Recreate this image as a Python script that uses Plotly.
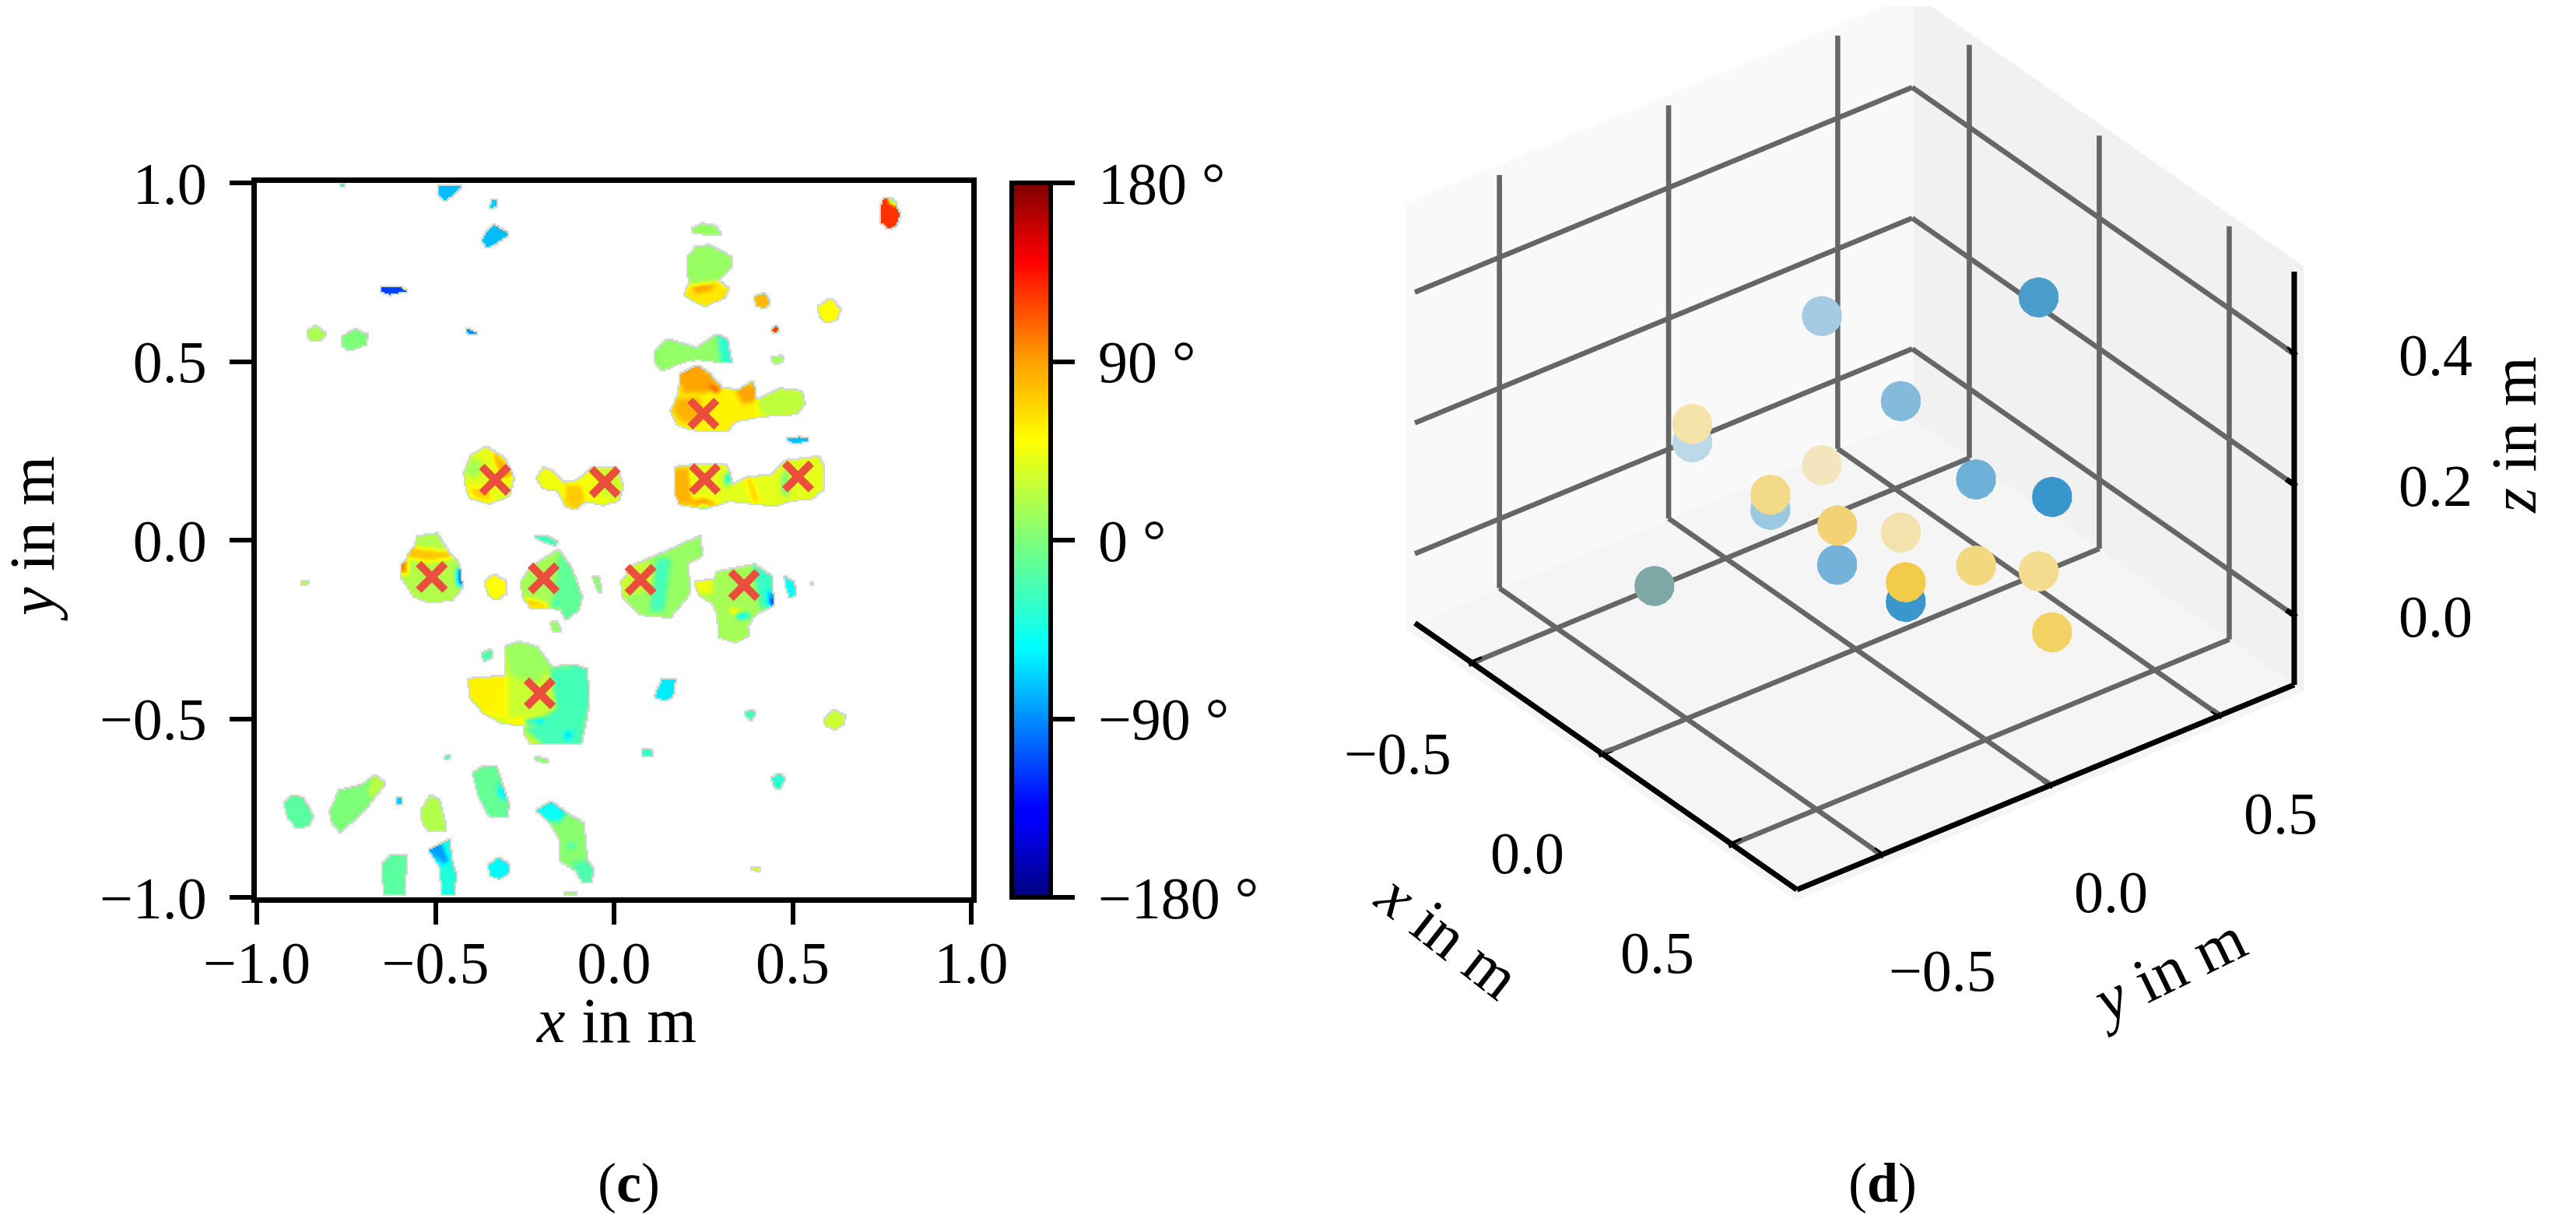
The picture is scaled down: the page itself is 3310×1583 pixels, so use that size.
import numpy as np
import plotly.graph_objects as go

# ---- panel (c): traced phase regions: (phase in degrees, outline in metres); later regions overwrite earlier ones
phase_regions = [
 (-75,[(-.489,.993),(-.426,.993),(-.454,.965),(-.475,.951),(-.489,.965)]),
 (-70,[(-.343,.949),(-.329,.954),(-.329,.935),(-.346,.929)]),
 (-75,[(-.357,.861),(-.336,.882),(-.294,.857),(-.329,.833),(-.357,.819),(-.368,.84)]),
 (-115,[(-.651,.71),(-.6,.71),(-.582,.697),(-.628,.688),(-.649,.694)]),
 (125,[(.754,.954),(.775,.958),(.789,.938),(.8,.91),(.789,.882),(.768,.872),(.749,.889),(.746,.924)]),
 (-140,[(.77,.958),(.782,.952),(.79,.94),(.778,.945)]),
 (10,[(.219,.872),(.247,.885),(.282,.879),(.299,.858),(.254,.858),(.226,.861)]),
 (10,[(.206,.792),(.233,.822),(.268,.824),(.328,.792),(.328,.764),(.289,.729),(.321,.704),(.31,.681),(.254,.656),(.219,.674),(.199,.688),(.213,.722),(.206,.75)]),
 (60,[(.199,.688),(.213,.715),(.289,.725),(.321,.704),(.31,.681),(.254,.656),(.219,.674)]),
 (90,[(.22,.71),(.29,.72),(.27,.70),(.23,.69)]),
 (80,[(.393,.681),(.421,.69),(.435,.667),(.424,.651),(.4,.657)]),
 (50,[(.574,.653),(.608,.676),(.633,.646),(.622,.618),(.594,.611),(.576,.629)]),
 (120,[(.442,.59),(.451,.599),(.463,.59),(.451,.579)]),
 (15,[(.442,.51),(.469,.515),(.474,.504),(.451,.493)]),
 (-90,[(-.415,.59),(-.399,.588),(-.382,.576),(-.406,.579)]),
 (18,[(-.857,.583),(-.836,.599),(-.808,.579),(-.818,.563),(-.843,.558),(-.854,.569)]),
 (0,[(-.76,.569),(-.725,.589),(-.69,.574),(-.697,.549),(-.739,.532),(-.76,.544)]),
 (8,[(.115,.528),(.15,.562),(.192,.549),(.233,.537),(.289,.576),(.317,.562),(.328,.5),(.289,.5),(.233,.507),(.192,.5),(.136,.476),(.115,.5)]),
 (-35,[(.29,.572),(.317,.562),(.328,.5),(.30,.5)]),
 (55,[(.185,.465),(.233,.489),(.268,.465),(.303,.424),(.351,.421),(.39,.444),(.397,.396),(.449,.396),(.463,.424),(.525,.417),(.532,.382),(.511,.354),(.407,.347),(.338,.333),(.317,.306),(.213,.31),(.178,.326),(.16,.361),(.182,.41)]),
 (88,[(.185,.465),(.233,.489),(.27,.46),(.29,.43),(.25,.41),(.19,.41)]),
 (125,[(.26,.435),(.3,.425),(.285,.41)]),
 (25,[(.40,.39),(.46,.42),(.525,.417),(.532,.382),(.511,.354),(.41,.35)]),
 (82,[(.165,.36),(.18,.40),(.24,.40),(.24,.33),(.19,.33)]),
 (88,[(.34,.415),(.39,.44),(.397,.39),(.36,.38)]),
 (-75,[(.479,.282),(.518,.288),(.553,.281),(.511,.271)]),
 (40,[(-.419,.188),(-.399,.236),(-.357,.26),(-.308,.229),(-.281,.174),(-.294,.125),(-.35,.104),(-.399,.118),(-.413,.146)]),
 (85,[(-.34,.25),(-.30,.21),(-.285,.18),(-.31,.17),(-.335,.22)]),
 (72,[(-.41,.15),(-.39,.12),(-.34,.11),(-.35,.14)]),
 (15,[(-.419,.19),(-.39,.235),(-.365,.2),(-.39,.17)]),
 (45,[(-.215,.174),(-.197,.201),(-.176,.194),(-.142,.16),(-.1,.167),(-.058,.204),(.004,.204),(.025,.153),(.011,.111),(-.031,.1),(-.079,.111),(-.107,.088),(-.135,.097),(-.156,.139),(-.197,.146)]),
 (72,[(-.14,.155),(-.09,.155),(-.08,.115),(-.105,.09),(-.135,.10)]),
 (30,[(-.05,.2),(0,.2),(.02,.15),(.01,.115),(-.03,.12)]),
 (40,[(.174,.201),(.185,.208),(.31,.213),(.324,.188),(.331,.153),(.372,.174),(.442,.183),(.483,.222),(.574,.233),(.588,.201),(.588,.146),(.553,.118),(.49,.111),(.449,.097),(.324,.111),(.254,.09),(.185,.101),(.171,.132)]),
 (82,[(.174,.2),(.21,.205),(.22,.11),(.185,.10),(.171,.13)]),
 (92,[(.19,.105),(.25,.095),(.29,.105),(.25,.12)]),
 (-70,[(.31,.19),(.324,.18),(.32,.15),(.31,.16)]),
 (72,[(.37,.17),(.385,.17),(.41,.105),(.39,.105)]),
 (0,[(.47,.18),(.49,.215),(.49,.12),(.47,.13)]),
 (-130,[(.23,.095),(.27,.095),(.25,.088)]),
 (20,[(-.593,-.076),(-.558,-.021),(-.549,.01),(-.496,.018),(-.468,-.028),(-.433,-.069),(-.426,-.132),(-.454,-.167),(-.517,-.174),(-.558,-.157),(-.593,-.104)]),
 (75,[(-.56,-.02),(-.47,-.03),(-.45,-.05),(-.52,-.06),(-.58,-.05)]),
 (100,[(-.593,-.07),(-.575,-.05),(-.58,-.1),(-.593,-.09)]),
 (-130,[(-.44,-.075),(-.43,-.08),(-.426,-.13),(-.44,-.12)]),
 (50,[(-.36,-.118),(-.336,-.097),(-.301,-.118),(-.301,-.146),(-.329,-.167),(-.35,-.153)]),
 (20,[(-.874,-.118),(-.857,-.115),(-.86,-.125),(-.871,-.125)]),
 (-25,[(-.221,.01),(-.19,.01),(-.16,-.004),(-.163,-.014),(-.197,-.004)]),
 (15,[(-.26,-.118),(-.232,-.076),(-.156,-.028),(-.121,-.076),(-.09,-.16),(-.1,-.194),(-.135,-.222),(-.149,-.194),(-.19,-.188),(-.232,-.188),(-.253,-.16)]),
 (-12,[(-.156,-.03),(-.121,-.076),(-.09,-.16),(-.1,-.194),(-.135,-.222),(-.149,-.19),(-.17,-.17),(-.16,-.1)]),
 (80,[(-.25,-.16),(-.19,-.175),(-.19,-.188),(-.232,-.185)]),
 (-90,[(-.17,-.17),(-.155,-.175),(-.165,-.185)]),
 (5,[(-.058,-.104),(-.044,-.104),(-.035,-.146),(-.044,-.143)]),
 (10,[(-.176,-.232),(-.16,-.229),(-.149,-.254),(-.169,-.254)]),
 (10,[(.021,-.118),(.06,-.069),(.157,-.028),(.24,.01),(.247,-.042),(.206,-.063),(.213,-.146),(.185,-.181),(.157,-.215),(.074,-.208),(.025,-.16)]),
 (30,[(.021,-.118),(.06,-.069),(.10,-.06),(.12,-.13),(.06,-.15),(.025,-.16)]),
 (-25,[(.12,-.05),(.16,-.05),(.14,-.2),(.10,-.2)]),
 (15,[(.226,-.118),(.282,-.111),(.289,-.09),(.393,-.069),(.442,-.104),(.446,-.181),(.393,-.208),(.372,-.243),(.379,-.264),(.338,-.285),(.296,-.271),(.289,-.201),(.275,-.174),(.24,-.153)]),
 (45,[(.226,-.118),(.275,-.11),(.275,-.15),(.24,-.15)]),
 (-30,[(.39,-.07),(.44,-.10),(.446,-.18),(.41,-.19)]),
 (-130,[(.43,-.14),(.442,-.15),(.446,-.18),(.435,-.18)]),
 (-120,[(.34,-.205),(.39,-.205),(.37,-.215),(.34,-.215)]),
 (70,[(.32,-.19),(.36,-.2),(.34,-.21)]),
 (-50,[(.479,-.104),(.504,-.118),(.508,-.153),(.493,-.16),(.483,-.132)]),
 (5,[(.55,-.118),(.557,-.118),(.557,-.126),(.55,-.126)]),
 (30,[(-.408,-.389),(-.357,-.396),(-.301,-.382),(-.304,-.299),(-.267,-.285),(-.218,-.299),(-.176,-.354),(-.107,-.351),(-.076,-.361),(-.071,-.451),(-.076,-.493),(-.093,-.569),(-.232,-.569),(-.253,-.535),(-.246,-.514),(-.308,-.514),(-.357,-.486),(-.399,-.444)]),
 (55,[(-.408,-.389),(-.30,-.38),(-.30,-.5),(-.36,-.486),(-.4,-.444)]),
 (12,[(-.304,-.299),(-.267,-.285),(-.218,-.299),(-.176,-.354),(-.22,-.40),(-.29,-.38)]),
 (-25,[(-.18,-.36),(-.107,-.351),(-.076,-.361),(-.071,-.45),(-.093,-.569),(-.2,-.569),(-.25,-.53),(-.16,-.47)]),
 (55,[(-.3,-.5),(-.2,-.49),(-.22,-.515),(-.3,-.514)]),
 (-125,[(-.25,-.505),(-.19,-.495),(-.2,-.505),(-.24,-.512)]),
 (-85,[(-.14,-.54),(-.11,-.535),(-.13,-.56)]),
 (-20,[(-.368,-.319),(-.346,-.307),(-.34,-.326),(-.364,-.337)]),
 (-60,[(.115,-.4375),(.136,-.389),(.171,-.392),(.164,-.4375),(.143,-.449)]),
 (-25,[(.365,-.486),(.386,-.475),(.396,-.486),(.382,-.504)]),
 (30,[(.59,-.5),(.615,-.475),(.646,-.493),(.643,-.514),(.618,-.528),(.594,-.518)]),
 (-30,[(.081,-.588),(.104,-.588),(.108,-.604),(.082,-.604)]),
 (-30,[(-.475,-.607),(-.46,-.604),(-.468,-.612)]),
 (8,[(-.221,-.608),(-.197,-.611),(-.179,-.621),(-.211,-.618)]),
 (-15,[(-.922,-.736),(-.899,-.715),(-.871,-.722),(-.843,-.771),(-.857,-.799),(-.885,-.806),(-.912,-.778)]),
 (0,[(-.794,-.757),(-.767,-.701),(-.704,-.685),(-.669,-.66),(-.642,-.681),(-.69,-.743),(-.732,-.785),(-.767,-.815),(-.788,-.792)]),
 (25,[(-.69,-.70),(-.669,-.66),(-.642,-.681),(-.68,-.72)]),
 (-70,[(-.607,-.722),(-.596,-.722),(-.596,-.74),(-.607,-.738)]),
 (20,[(-.538,-.757),(-.513,-.715),(-.489,-.729),(-.475,-.785),(-.472,-.8125),(-.517,-.8125),(-.535,-.792)]),
 (-10,[(-.394,-.653),(-.364,-.632),(-.329,-.635),(-.308,-.701),(-.294,-.743),(-.301,-.774),(-.35,-.771),(-.378,-.715)]),
 (-70,[(-.329,-.675),(-.308,-.708),(-.301,-.729),(-.322,-.715)]),
 (5,[(-.215,-.757),(-.176,-.732),(-.135,-.764),(-.086,-.792),(-.076,-.896),(-.058,-.924),(-.065,-.958),(-.086,-.958),(-.107,-.924),(-.149,-.896),(-.149,-.84),(-.176,-.792)]),
 (-50,[(-.215,-.757),(-.176,-.732),(-.135,-.764),(-.15,-.79),(-.19,-.78)]),
 (-20,[(-.12,-.90),(-.076,-.896),(-.058,-.924),(-.065,-.958),(-.086,-.958)]),
 (-60,[(-.14,-.85),(-.1,-.85),(-.12,-.86)]),
 (-15,[(-.649,-.91),(-.621,-.882),(-.582,-.882),(-.586,-.993),(-.642,-.993)]),
 (-40,[(-.517,-.868),(-.461,-.84),(-.454,-.896),(-.443,-.9375),(-.447,-.993),(-.482,-.993),(-.485,-.917)]),
 (-85,[(-.517,-.868),(-.48,-.85),(-.46,-.9),(-.48,-.91)]),
 (-55,[(-.35,-.91),(-.322,-.889),(-.294,-.91),(-.294,-.931),(-.322,-.947),(-.346,-.9375)]),
 (10,[(-.156,-.993),(-.121,-.985),(-.093,-.993)]),
 (-35,[(.442,-.667),(.463,-.653),(.479,-.667),(.463,-.697),(.449,-.6875)]),
 (40,[(.386,-.917),(.407,-.917),(.407,-.926),(.386,-.921)]),
 (-45,[(-.769,.996),(-.753,.996),(-.76,.99)]),
]
source_x = [-.51,-.197,.074,.364,-.333,-.026,.254,.515,.250,-.208]
source_y = [-.103,-.107,-.111,-.126,.169,.1625,.171,.178,.354,-.429]
x_ticks = [-1.0,-0.5,0.0,0.5,1.0]
y_ticks = [-1.0,-0.5,0.0,0.5,1.0]
phase_ticks = [-180,-90,0,90,180]
phase_labels = ["\u2009−180 °","\u2009−90 °","\u20090 °","\u200990 °","\u2009180 °"]

# ---- panel (d)
point_x = [-.5,-.2,.07,.36,-.34,-.03,.24,.5,.24,-.21]
point_y = [-.1,-.1,-.11,-.13,.16,.155,.17,.195,.355,-.435]
yellow_z = [.122,.097,.127,.125,.048,.032,.053,.018,.005,.026]
blue_z = [.094,.074,.067,.095,.276,.233,.185,.225,.424,.026]
yellow_colors = ["#f5e3a9","#f3d98a","#f2d274","#f2cb4b","#f3e6bf","#f3e2ad","#f2d87f","#f2d262","#f3dc8f","#7ea8a6"]
blue_colors = ["#bcd9ea","#9ac9e2","#74b2d9","#3a97cc","#a4cbe3","#84bbdb","#6db0d8","#3796cb","#4a9ccb","#7ea8a6"]
tick_3d = [-0.5,0.0,0.5]
z_ticks = [0.0,0.2,0.4]
x_range = [-.72,.75]
y_range = [-.75,.72]
z_range = [-.106,.526]

SERIF = "Liberation Serif"
W,H = 3310,1583
OFF = 8  # the page's own margin
def fx(px): return (px-OFF)/W
def fy(py): return 1-(py-OFF)/H
JET = [[0,"#00007f"],[.11,"#0000ff"],[.125,"#0000ff"],[.35,"#00ffff"],[.5,"#7dff7a"],[.64,"#ffff00"],[.75,"#ffa000"],[.89,"#ff0000"],[1,"#7f0000"]]

# rasterise the traced regions onto a grid
n = 459
centers = -1 + (np.arange(n)+.5)*2/n
gx,gy = np.meshgrid(centers,centers)
z = np.full((n,n),np.nan)
for phase,poly in phase_regions:
    p = np.array(poly)
    inside = np.zeros((n,n),bool)
    for (x0,y0),(x1,y1) in zip(p,np.roll(p,-1,axis=0)):
        if y0==y1: continue
        c = ((y0>gy)!=(y1>gy)) & (gx < (x1-x0)*(gy-y0)/(y1-y0)+x0)
        inside ^= c
    z[inside] = phase
mask = ~np.isnan(z)
def blur(a):
    out = a.copy()
    for axis in (0,1):
        out = (np.roll(out,1,axis)+out+np.roll(out,-1,axis))
    return out
v = np.where(mask,z,0.0); w = mask.astype(float)
for _ in range(3):
    v = blur(v*w)/np.maximum(blur(w),1e-6)
z = np.where(mask,v,np.nan)
near = blur(mask.astype(float))>0
halo = np.where(near & ~mask,1.0,np.nan)

fig = go.Figure()
fig.add_trace(go.Heatmap(x=centers,y=centers,z=halo,showscale=False,hoverinfo="skip",zmin=0,zmax=1,
    colorscale=[[0,"#d0dcd0"],[1,"#d0dcd0"]],xaxis="x",yaxis="y"))
fig.add_trace(go.Heatmap(x=centers,y=centers,z=z,zmin=-180,zmax=180,colorscale=JET,xaxis="x",yaxis="y",
    colorbar=dict(x=fx(1300),xanchor="left",y=fy(694),yanchor="middle",len=918/H,lenmode="fraction",thickness=50,thicknessmode="pixels",
                  outlinewidth=6,outlinecolor="black",tickvals=phase_ticks,ticktext=phase_labels,ticks="outside",ticklen=28,tickwidth=6,
                  tickcolor="black",tickfont=dict(family=SERIF,size=76,color="black"),xpad=0,ypad=0)))
fig.add_trace(go.Scatter(x=source_x,y=source_y,mode="markers",xaxis="x",yaxis="y",showlegend=False,
    marker=dict(symbol="x-thin",size=34,color="#ea4f3d",line=dict(color="#ea4f3d",width=10))))

# 3D grid, axis lines and tick marks are ribbons built from the tick values and ranges,
# because WebGL draws the native grid lines one pixel wide
UNIT = 573.0  # screen pixels per scene unit
aspect = np.array([1.42,1.42,1.115])
eye_dir = np.array([.669,-.514,.536])
r = 2.2
center_z = -.027
PAD = 9/UNIT  # scene units the axis range extends past the box, so that ribbons stay unclipped
spans = np.array([x_range[1]-x_range[0],y_range[1]-y_range[0],z_range[1]-z_range[0]])
pad_data = PAD*spans/aspect
S = aspect/(spans+2*pad_data)
view = eye_dir/np.linalg.norm(eye_dir)
class Ribbons:
    def __init__(self,width): self.v=[]; self.f=[]; self.w=width
    def seg(self,P,Q):
        p,q = np.array(P)*S,np.array(Q)*S
        nrm = np.cross(q-p,view); nrm = nrm/np.linalg.norm(nrm)*self.w/2
        b = view*6/UNIT
        k = len(self.v)
        for c in (p-nrm+b,p+nrm+b,q+nrm+b,q-nrm+b):
            self.v.append(c/S)
        self.f += [(k,k+1,k+2),(k,k+2,k+3)]
    def trace(self,color):
        a = np.array(self.v); f = np.array(self.f)
        return go.Mesh3d(x=a[:,0],y=a[:,1],z=a[:,2],i=f[:,0],j=f[:,1],k=f[:,2],color=color,opacity=1,flatshading=True,hoverinfo="skip",
            showscale=False,scene="scene",lighting=dict(ambient=1,diffuse=0,specular=0,roughness=1,fresnel=0))
xa,xb = x_range; ya,yb = y_range; za,zb = z_range
G = Ribbons(6.5/UNIT)
for t in tick_3d:
    G.seg((t,ya,za),(t,yb,za)); G.seg((t,yb,za),(t,yb,zb))
    G.seg((xb,t,za),(xa,t,za)); G.seg((xa,t,za),(xa,t,zb))
for t in z_ticks:
    G.seg((xa,ya,t),(xa,yb,t)); G.seg((xa,yb,t),(xb,yb,t))
A = Ribbons(7/UNIT)
A.seg((xa,ya,za),(xb,ya,za)); A.seg((xb,ya,za),(xb,yb,za)); A.seg((xb,yb,za),(xb,yb,zb))
for t in tick_3d:
    A.seg((t,ya-.03,za),(t,ya+.03,za)); A.seg((xb-.03,t,za),(xb+.03,t,za))
for t in z_ticks:
    A.seg((xb-.03,yb,t),(xb+.01,yb,t))
fig.add_trace(G.trace("#666666"))
fig.add_trace(A.trace("black"))
fig.add_trace(go.Scatter3d(x=point_x,y=point_y,z=yellow_z,mode="markers",showlegend=False,scene="scene",
    marker=dict(size=30,color=yellow_colors,line=dict(width=0))))
fig.add_trace(go.Scatter3d(x=point_x,y=point_y,z=blue_z,mode="markers",showlegend=False,scene="scene",
    marker=dict(size=30,color=blue_colors,line=dict(width=0))))

def ax3(rng,pad,bg):
    return dict(range=[rng[0]-pad,rng[1]+pad],showticklabels=False,title=dict(text=""),showgrid=False,zeroline=False,showline=False,
        ticks="",showbackground=True,backgroundcolor=bg,showspikes=False)
def lab(t): return f"{t:.1f}".replace("-","−")
def ann(x,y,z,text,dx,dy,angle=0,size=76):
    return dict(x=x,y=y,z=z,text=text,showarrow=False,xshift=dx,yshift=-dy,textangle=angle,font=dict(family=SERIF,size=size,color="black"))
scene_ann = []
for t in tick_3d:
    scene_ann.append(ann(t,ya,za,lab(t),-96,128+23*t))
    scene_ann.append(ann(xb,t,za,lab(t),78,137-23*t))
for t in z_ticks:
    scene_ann.append(ann(xb,yb,t,lab(t),182,1))
scene_ann.append(ann(0,ya,za,"<i>x</i> in m",-198,234,38,82))
scene_ann.append(ann(xb,0,za,"<i>y</i> in m",150,238,-26,82))
scene_ann.append(ann(xb,yb,.2,"<i>z</i> in m",283,-64,-90,82))

axis_common = dict(ticks="outside",ticklen=28,tickwidth=6,tickcolor="black",showgrid=False,zeroline=False,showline=True,mirror=True,
                   linecolor="black",linewidth=7,range=[-1,1],ticktext=["−1.0","−0.5","0.0","0.5","1.0"])
fig.update_layout(width=W,height=H,margin=dict(l=0,r=0,t=0,b=0,autoexpand=False),paper_bgcolor="white",plot_bgcolor="white",showlegend=False,
    font=dict(family=SERIF,size=76,color="black"),
    xaxis=dict(domain=[fx(330),fx(1248)],tickvals=x_ticks,ticklabelstandoff=-16,**axis_common),
    yaxis=dict(domain=[fy(1153),fy(235)],tickvals=y_ticks,ticklabelstandoff=14,**axis_common),
    scene=dict(domain=dict(x=[fx(1700),fx(3066)],y=[fy(1168),1.0]),
        xaxis=ax3(x_range,pad_data[0],"#f9f9f9"),yaxis=ax3(y_range,pad_data[1],"#f1f1f1"),zaxis=ax3(z_range,pad_data[2],"#f5f5f5"),
        aspectmode="manual",aspectratio=dict(x=float(aspect[0]),y=float(aspect[1]),z=float(aspect[2])),annotations=scene_ann,
        camera=dict(eye=dict(x=float(eye_dir[0]*r),y=float(eye_dir[1]*r),z=float(eye_dir[2]*r+center_z)),center=dict(x=0,y=0,z=center_z),up=dict(x=0,y=0,z=1),projection=dict(type="orthographic"))),
    annotations=[
      dict(text="<i>x</i> in m",x=fx(792),y=fy(1311),xref="paper",yref="paper",xanchor="center",yanchor="middle",showarrow=False,font=dict(family=SERIF,size=82,color="black")),
      dict(text="<i>y</i> in m",x=fx(42),y=fy(692),xref="paper",yref="paper",xanchor="center",yanchor="middle",textangle=-90,showarrow=False,font=dict(family=SERIF,size=82,color="black")),
      dict(text="(<b>c</b>)",x=fx(808),y=fy(1520),xref="paper",yref="paper",xanchor="center",yanchor="middle",showarrow=False,font=dict(family=SERIF,size=72,color="black")),
      dict(text="(<b>d</b>)",x=fx(2419),y=fy(1520),xref="paper",yref="paper",xanchor="center",yanchor="middle",showarrow=False,font=dict(family=SERIF,size=72,color="black")),
    ])
fig.write_html("out.html")
